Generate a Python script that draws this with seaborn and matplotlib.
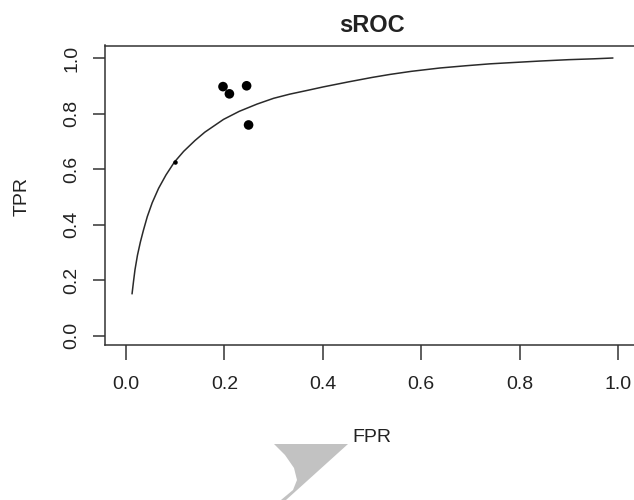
import pandas as pd
import matplotlib.pyplot as plt
import seaborn as sns
from matplotlib.patches import Polygon

# summary ROC curve
curve_fpr = [0.012, 0.015, 0.018, 0.023, 0.029, 0.035, 0.043, 0.053,
             0.066, 0.081, 0.098, 0.117, 0.140, 0.160, 0.198, 0.230, 0.266,
             0.300, 0.333, 0.370, 0.401, 0.452, 0.500, 0.537, 0.580, 0.638,
             0.690, 0.740, 0.790, 0.841, 0.900, 0.950, 0.990]
curve_tpr = [0.151, 0.196, 0.238, 0.290, 0.338, 0.379, 0.429, 0.479,
             0.531, 0.579, 0.625, 0.664, 0.703, 0.733, 0.779, 0.808, 0.834,
             0.855, 0.870, 0.884, 0.896, 0.914, 0.930, 0.941, 0.952, 0.964,
             0.972, 0.979, 0.984, 0.989, 0.994, 0.997, 1.000]

# individual studies
study_fpr = [0.197, 0.210, 0.245, 0.249]
study_tpr = [0.897, 0.871, 0.900, 0.759]

# summary point on the curve
summary_fpr = [0.10]
summary_tpr = [0.627]

curve = pd.DataFrame({'FPR': curve_fpr, 'TPR': curve_tpr})
studies = pd.DataFrame({'FPR': study_fpr, 'TPR': study_tpr})

sns.set_style('white')
plt.rcParams['font.family'] = ['Liberation Sans', 'DejaVu Sans']

W, H = 634, 500
fig = plt.figure(figsize=(W / 100, H / 100), dpi=100)
ax = fig.add_axes([105 / W, 1 - 345 / H, (638 - 105) / W, (345 - 45.5) / H])

sns.lineplot(data=curve, x='FPR', y='TPR', ax=ax, color='#2a2a2a', lw=1.1)
sns.scatterplot(data=studies, x='FPR', y='TPR', ax=ax, color='black', s=48,
                edgecolor='none')
ax.scatter(summary_fpr, summary_tpr, color='black', s=5, zorder=3)

ax.set_xlim(-0.043, 1.041)
ax.set_ylim(-0.033, 1.045)
ax.set_xticks([0, 0.2, 0.4, 0.6, 0.8, 1.0])
ax.set_yticks([0, 0.2, 0.4, 0.6, 0.8, 1.0])
ax.set_xticklabels(['0.0', '0.2', '0.4', '0.6', '0.8', '1.0'])
ax.set_yticklabels(['0.0', '0.2', '0.4', '0.6', '0.8', '1.0'],
                   rotation=90, va='center')
ax.tick_params(axis='x', length=11, width=1.1, color='#333333', pad=11,
               labelsize=14, labelcolor='#222222', bottom=True)
ax.tick_params(axis='y', length=9, width=1.1, color='#333333', pad=9,
               labelsize=14, labelcolor='#222222', left=True)
for sp in ax.spines.values():
    sp.set_color('#333333')
    sp.set_linewidth(1.1)
ax.spines['right'].set_visible(False)
ax.set_xlabel('')
ax.set_ylabel('')

fig.text(371.5 / W, 1 - 32 / H, 'sROC', ha='center', va='baseline',
         fontsize=17, fontweight='bold', color='#222222')
fig.text(371.5 / W, 1 - 442 / H, 'FPR', ha='center', va='baseline',
         fontsize=14, color='#222222')
fig.text(22 / W, 1 - 196 / H, 'TPR', ha='center', va='center', rotation=90,
         fontsize=14, color='#222222')

# grey pointer shape at the bottom of the screenshot
shape = [(274, 444), (348, 444), (286, 500), (281, 500), (293, 490),
         (297, 480), (294, 468), (285, 455)]
fig.patches.append(Polygon([(x / W, 1 - y / H) for x, y in shape],
                           closed=True, transform=fig.transFigure,
                           facecolor='#c2c2c2', edgecolor='none'))

fig.savefig('out.png', dpi=100)
